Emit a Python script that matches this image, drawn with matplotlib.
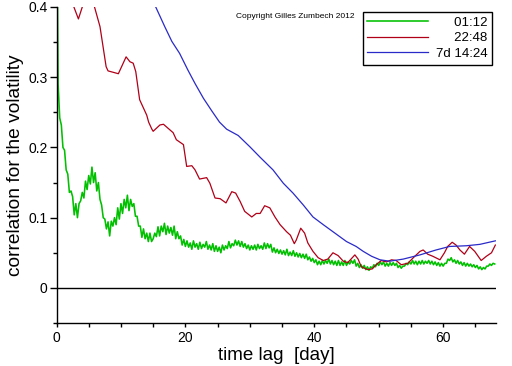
import numpy as np
import matplotlib
matplotlib.use("Agg")
import matplotlib.pyplot as plt
from matplotlib.ticker import MultipleLocator, FuncFormatter

plt.rcParams['font.family'] = ['Liberation Sans', 'DejaVu Sans']

# ---- data ----
green_step = 0.25  # lag sampling of the 01:12 series (days)
green_corr = [
    0.60, 0.290, 0.242, 0.232, 0.200, 0.196, 0.168, 0.162, 0.136, 0.138,
    0.130, 0.104, 0.120, 0.100, 0.120, 0.124, 0.136, 0.128, 0.152, 0.140,
    0.160, 0.148, 0.172, 0.150, 0.164, 0.138, 0.150, 0.126, 0.118, 0.100,
    0.098, 0.084, 0.094, 0.074, 0.095, 0.088, 0.100, 0.090, 0.114, 0.098,
    0.120, 0.106, 0.126, 0.114, 0.132, 0.110, 0.126, 0.116, 0.120, 0.102,
    0.102, 0.088, 0.088, 0.072, 0.084, 0.070, 0.078, 0.066, 0.078, 0.066,
    0.070, 0.078, 0.073, 0.087, 0.074, 0.088, 0.080, 0.092, 0.076, 0.088,
    0.078, 0.086, 0.075, 0.088, 0.070, 0.080, 0.070, 0.074, 0.061, 0.069,
    0.059, 0.067, 0.058, 0.064, 0.055, 0.067, 0.058, 0.063, 0.055, 0.065,
    0.056, 0.062, 0.058, 0.066, 0.055, 0.061, 0.054, 0.063, 0.052, 0.060,
    0.052, 0.058, 0.050, 0.061, 0.054, 0.060, 0.056, 0.066, 0.057, 0.063,
    0.060, 0.068, 0.061, 0.067, 0.059, 0.066, 0.058, 0.063, 0.056, 0.061,
    0.054, 0.060, 0.055, 0.061, 0.054, 0.062, 0.056, 0.060, 0.055, 0.064,
    0.056, 0.063, 0.057, 0.062, 0.051, 0.057, 0.050, 0.055, 0.049, 0.054,
    0.048, 0.053, 0.047, 0.055, 0.046, 0.051, 0.046, 0.053, 0.045, 0.050,
    0.044, 0.049, 0.043, 0.048, 0.042, 0.048, 0.040, 0.044, 0.038, 0.042,
    0.036, 0.040, 0.033, 0.038, 0.033, 0.039, 0.034, 0.039, 0.035, 0.041,
    0.034, 0.039, 0.033, 0.038, 0.032, 0.039, 0.032, 0.037, 0.032, 0.039,
    0.032, 0.037, 0.034, 0.039, 0.035, 0.040, 0.031, 0.035, 0.029, 0.033,
    0.028, 0.032, 0.026, 0.030, 0.025, 0.030, 0.028, 0.033, 0.030, 0.035,
    0.032, 0.037, 0.033, 0.037, 0.031, 0.035, 0.031, 0.036, 0.032, 0.036,
    0.032, 0.035, 0.029, 0.032, 0.028, 0.031, 0.031, 0.035, 0.033, 0.037,
    0.034, 0.039, 0.034, 0.038, 0.033, 0.038, 0.034, 0.039, 0.034, 0.038,
    0.035, 0.039, 0.034, 0.038, 0.033, 0.037, 0.032, 0.036, 0.031, 0.035,
    0.031, 0.035, 0.035, 0.041, 0.039, 0.043, 0.037, 0.040, 0.035, 0.039,
    0.034, 0.037, 0.032, 0.036, 0.031, 0.035, 0.031, 0.034, 0.030, 0.033,
    0.029, 0.032, 0.027, 0.030, 0.026, 0.029, 0.027, 0.031, 0.031, 0.034,
    0.032, 0.035, 0.034,
]
green_lag = np.arange(len(green_corr)) * green_step

red_lag = [0.3, 1.0, 1.8, 2.7, 3.4, 4.0, 4.8, 5.4, 5.9, 6.75,
           7.3, 7.7, 8.0, 9.6, 10.1, 10.8, 11.4, 11.9, 12.3, 12.9,
           13.5, 14.0, 14.3, 14.8, 15.0, 16.05, 16.6, 18.1, 18.6, 19.7,
           20.2, 21.0, 21.5, 22.2, 23.3, 23.8, 24.6, 25.4, 26.3, 27.2,
           27.8, 28.5, 29.2, 30.3, 31.0, 31.6, 32.3, 33.1, 33.9, 34.7,
           35.7, 36.3, 36.9, 37.2, 37.9, 38.5, 39.0, 39.8, 40.6, 41.4,
           42.1, 42.9, 43.7, 44.5, 45.2, 46.3, 46.8, 47.3, 48.3, 49.0,
           49.6, 50.4, 51.2, 52.0, 52.7, 53.5, 54.5, 55.6, 56.4, 56.9,
           57.6, 58.4, 59.5, 60.2, 60.7, 61.4, 62.0, 62.6, 63.3, 64.1,
           64.9, 65.9, 66.7, 67.5, 68.1]
red_corr = [0.80, 0.56, 0.46, 0.40, 0.383, 0.40, 0.425, 0.42, 0.40, 0.372,
            0.339, 0.315, 0.309, 0.305, 0.315, 0.329, 0.322, 0.320, 0.308, 0.268,
            0.256, 0.246, 0.236, 0.226, 0.223, 0.232, 0.233, 0.221, 0.211, 0.204,
            0.173, 0.174, 0.168, 0.155, 0.157, 0.149, 0.128, 0.127, 0.121, 0.137,
            0.135, 0.123, 0.109, 0.101, 0.106, 0.106, 0.117, 0.114, 0.101, 0.090,
            0.080, 0.075, 0.063, 0.068, 0.085, 0.078, 0.064, 0.052, 0.043, 0.039,
            0.041, 0.050, 0.046, 0.038, 0.036, 0.047, 0.041, 0.030, 0.026, 0.027,
            0.033, 0.039, 0.037, 0.040, 0.039, 0.033, 0.035, 0.045, 0.052, 0.054,
            0.048, 0.045, 0.040, 0.050, 0.059, 0.065, 0.061, 0.054, 0.048, 0.059,
            0.052, 0.039, 0.045, 0.050, 0.061]

blue_lag = [13.0, 15.4, 16.8, 17.9, 19.1, 20.4, 21.5, 22.8, 24.1, 25.3,
            26.4, 27.2, 28.2, 30.0, 31.6, 33.6, 35.2, 36.7, 38.3, 39.8,
            41.4, 42.9, 45.0, 46.5, 47.6, 48.9, 50.2, 51.7, 53.8, 56.4,
            58.9, 61.0, 63.6, 65.7, 68.1]
blue_corr = [0.43, 0.400, 0.372, 0.351, 0.334, 0.310, 0.291, 0.270, 0.252, 0.236,
             0.226, 0.222, 0.217, 0.201, 0.186, 0.168, 0.149, 0.135, 0.118, 0.101,
             0.090, 0.080, 0.066, 0.059, 0.052, 0.045, 0.040, 0.038, 0.041, 0.047,
             0.054, 0.059, 0.060, 0.062, 0.067]

series_labels = ["01:12", "22:48", "7d 14:24"]
label_pads = ["     ", "     ", ""]
series_colors = ["#00c000", "#b00018", "#2a2ac8"]

# ---- figure ----
W, H = 512, 366
fig = plt.figure(figsize=(W / 100, H / 100), dpi=100)
ax = fig.add_axes([56.5 / W, 1 - 323 / H, (496 - 56.5) / W, (323 - 7) / H])

ax.plot(green_lag, green_corr, color=series_colors[0], lw=1.15,
        label=label_pads[0] + series_labels[0])
ax.plot(red_lag, red_corr, color=series_colors[1], lw=0.9,
        label=label_pads[1] + series_labels[1])
ax.plot(blue_lag, blue_corr, color=series_colors[2], lw=0.9,
        label=label_pads[2] + series_labels[2])
ax.axhline(0, color='black', lw=1.0)

ax.set_xlim(0, 68.2)
ax.set_ylim(-0.05, 0.4)
for s in ['top', 'right']:
    ax.spines[s].set_visible(False)
ax.spines['left'].set_linewidth(1.0)
ax.spines['bottom'].set_linewidth(1.0)

ax.xaxis.set_major_locator(MultipleLocator(20))
ax.xaxis.set_minor_locator(MultipleLocator(5))
ax.yaxis.set_major_locator(MultipleLocator(0.1))
ax.yaxis.set_minor_locator(MultipleLocator(0.05))
ax.yaxis.set_major_formatter(FuncFormatter(lambda v, p: "0" if abs(v) < 1e-9 else f"{v:.1f}"))
ax.tick_params(axis='y', which='major', length=5, width=1, pad=1.5, labelsize=10)
ax.tick_params(axis='y', which='minor', length=3, width=1)
ax.tick_params(axis='x', which='major', length=3, width=1, pad=3, labelsize=10)
ax.tick_params(axis='x', which='minor', length=3, width=1)

ax.set_xlabel("time lag  [day]", fontsize=13.5, labelpad=1)
ax.set_ylabel("correlation for the volatility", fontsize=13.8, labelpad=3)

leg = ax.legend(loc='upper right', bbox_to_anchor=(492 / W, 1 - 12 / H),
                bbox_transform=fig.transFigure, borderaxespad=0,
                fancybox=False, framealpha=1, edgecolor='black',
                fontsize=9.5, handlelength=4.6, handletextpad=0.6,
                labelspacing=0.25, borderpad=0.35)
leg.get_frame().set_linewidth(1.0)

fig.text(354 / W, 1 - 16 / H, "Copyright Gilles Zumbech 2012",
         ha='right', va='center', fontsize=6)

fig.savefig("out.png", dpi=100)
